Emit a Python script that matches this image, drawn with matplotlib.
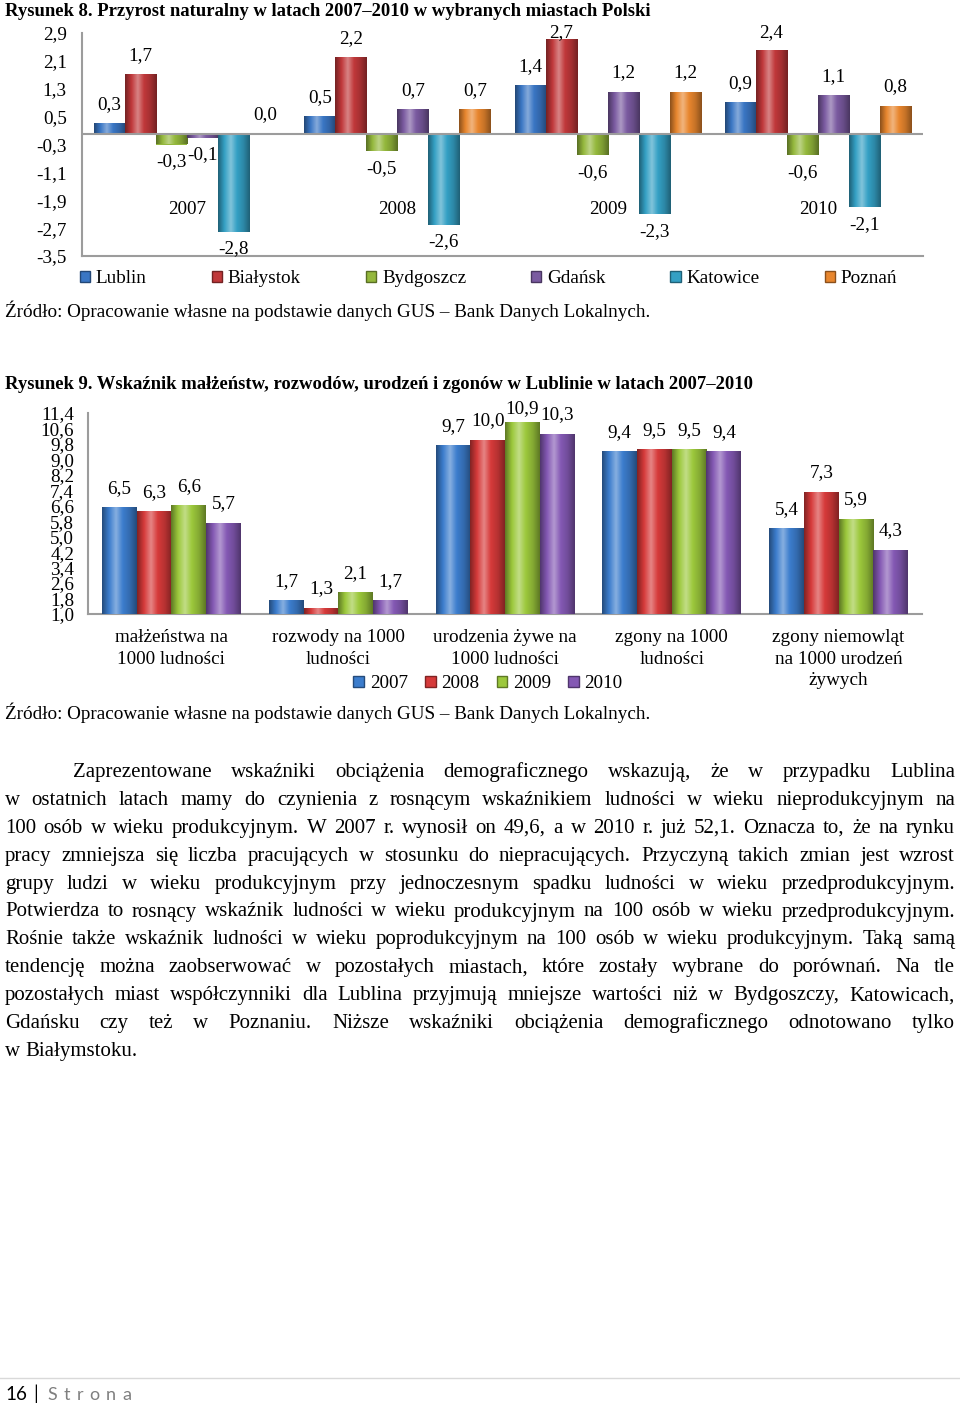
import numpy as np
import matplotlib
matplotlib.use("Agg")
import matplotlib.pyplot as plt
from matplotlib.colors import LinearSegmentedColormap, to_rgb
from matplotlib.patches import Patch
from matplotlib.lines import Line2D

# --- data: Rysunek 8 (przyrost naturalny) ---
years = ["2007", "2008", "2009", "2010"]
cities = ["Lublin", "Białystok", "Bydgoszcz", "Gdańsk", "Katowice", "Poznań"]
lublin = [0.3, 0.5, 1.4, 0.9]
bialystok = [1.7, 2.2, 2.7, 2.4]
bydgoszcz = [-0.3, -0.5, -0.6, -0.6]
gdansk = [-0.1, 0.7, 1.2, 1.1]
katowice = [-2.8, -2.6, -2.3, -2.1]
poznan = [0.0, 0.7, 1.2, 0.8]
growth = [lublin, bialystok, bydgoszcz, gdansk, katowice, poznan]
city_colors = ["#3a76c4", "#c0383a", "#94b83c", "#7a5aa0", "#34a0c4", "#e8862e"]

# --- data: Rysunek 9 (wskazniki dla Lublina) ---
indicators = ["małżeństwa na\n1000 ludności", "rozwody na 1000\nludności",
              "urodzenia żywe na\n1000 ludności", "zgony na 1000\nludności",
              "zgony niemowląt\nna 1000 urodzeń\nżywych"]
v2007 = [6.5, 1.7, 9.7, 9.4, 5.4]
v2008 = [6.3, 1.3, 10.0, 9.5, 7.3]
v2009 = [6.6, 2.1, 10.9, 9.5, 5.9]
v2010 = [5.7, 1.7, 10.3, 9.4, 4.3]
rates = [v2007, v2008, v2009, v2010]
year_colors = ["#3c7dcd", "#d63a3a", "#9cc83c", "#8459b4"]

para_lines = [
    "Zaprezentowane wskaźniki obciążenia demograficznego wskazują, że w przypadku Lublina",
    "w ostatnich latach mamy do czynienia z rosnącym wskaźnikiem ludności w wieku nieprodukcyjnym na",
    "100 osób w wieku produkcyjnym. W 2007 r. wynosił on 49,6, a w 2010 r. już 52,1. Oznacza to, że na rynku",
    "pracy zmniejsza się liczba pracujących w stosunku do niepracujących. Przyczyną takich zmian jest wzrost",
    "grupy ludzi w wieku produkcyjnym przy jednoczesnym spadku ludności w wieku przedprodukcyjnym.",
    "Potwierdza to rosnący wskaźnik ludności w wieku produkcyjnym na 100 osób w wieku przedprodukcyjnym.",
    "Rośnie także wskaźnik ludności w wieku poprodukcyjnym na 100 osób w wieku produkcyjnym. Taką samą",
    "tendencję można zaobserwować w pozostałych miastach, które zostały wybrane do porównań. Na tle",
    "pozostałych miast współczynniki dla Lublina przyjmują mniejsze wartości niż w Bydgoszczy, Katowicach,",
    "Gdańsku czy też w Poznaniu. Niższe wskaźniki obciążenia demograficznego odnotowano tylko",
    "w Białymstoku.",
]

src = "Źródło: Opracowanie własne na podstawie danych GUS – Bank Danych Lokalnych."

plt.rcParams['font.family'] = ['Liberation Serif', 'DejaVu Serif']

W, H = 960, 1406
fig = plt.figure(figsize=(W / 100, H / 100), dpi=100)
fig.patch.set_facecolor("white")
AX_GRAY = "#9c9c9c"
FS = 13.8      # chart text
TS = 13.4      # titles


def px_axes(x0, y0, x1, y1):
    return fig.add_axes([x0 / W, 1 - y1 / H, (x1 - x0) / W, (y1 - y0) / H])


def ftext(x, y, s, **kw):
    return fig.text(x / W, 1 - y / H, s, **kw)


def fmt(v):
    return f"{v:.1f}".replace(".", ",")


def cyl_cmap(c):
    base = np.array(to_rgb(c))
    dark = base * 0.6
    light = base + (1 - base) * 0.38
    return LinearSegmentedColormap.from_list("cyl", [dark, base, light, base, base * 0.85, dark])


def add_gradient(ax, bars, color):
    cm = cyl_cmap(color)
    grad = np.linspace(0, 1, 128).reshape(1, -1)
    for r in bars:
        x0, w = r.get_x(), r.get_width()
        y0, h = r.get_y(), r.get_height()
        if h == 0:
            continue
        im = ax.imshow(grad, extent=(x0, x0 + w, min(y0, y0 + h), max(y0, y0 + h)),
                       aspect="auto", cmap=cm, interpolation="bilinear", zorder=3)
        im.set_clip_path(r)
        im.set_clip_box(ax.bbox)


def style_axes(ax):
    for s in ["top", "right"]:
        ax.spines[s].set_visible(False)
    for s in ["left", "bottom"]:
        ax.spines[s].set_color(AX_GRAY)
        ax.spines[s].set_linewidth(1.5)
    ax.tick_params(length=0)


# ---------------- Rysunek 8 ----------------
ftext(5, 16, "Rysunek 8. Przyrost naturalny w latach 2007–2010 w wybranych miastach Polski",
      fontsize=TS, fontweight="bold", va="baseline")

ax1 = px_axes(82, 33, 923, 256)
style_axes(ax1)
x = np.arange(len(years))
bw = 0.1476
handles = []
for j, (city, vals, col) in enumerate(zip(cities, growth, city_colors)):
    bars = ax1.bar(x + (j - 2.5) * bw, vals, bw, color=col, zorder=2, linewidth=0)
    add_gradient(ax1, bars, col)
    handles.append(Patch(facecolor=col, edgecolor=np.array(to_rgb(col)) * 0.6, label=city))
    for xi, v in zip(x + (j - 2.5) * bw, vals):
        ly = min(v + 0.55, 2.9) if v >= 0 else v - 0.5
        ax1.text(xi, ly, fmt(v), ha="center", va="center", fontsize=FS, clip_on=False)
ax1.axhline(0, color=AX_GRAY, lw=1.5, zorder=4)
for xi, yr in zip(x, years):
    ax1.text(xi, -2.16, yr, ha="center", va="center", fontsize=FS)
ax1.set_xlim(-0.5, len(years) - 0.5)
ax1.set_ylim(-3.5, 2.9)
ticks1 = np.round(np.arange(-3.5, 2.95, 0.8), 1)
ax1.set_yticks(ticks1)
ax1.set_yticklabels([fmt(t) for t in ticks1], fontsize=FS)
ax1.tick_params(axis="y", pad=11)
ax1.set_xticks([])

fig.legend(handles=handles, loc="lower left", ncol=6, mode="expand", frameon=False,
           bbox_to_anchor=(72 / W, 1 - 295 / H, (905 - 72) / W, 26 / H),
           fontsize=FS, handlelength=0.55, handleheight=0.55, handletextpad=0.3,
           borderaxespad=0)

ftext(5, 311, src, fontsize=FS, va="center")

# ---------------- Rysunek 9 ----------------
ftext(5, 389, "Rysunek 9. Wskaźnik małżeństw, rozwodów, urodzeń i zgonów w Lublinie w latach 2007–2010",
      fontsize=TS, fontweight="bold", va="baseline")

ax2 = px_axes(88, 413, 922, 614)
style_axes(ax2)
x2 = np.arange(len(indicators))
bw2 = 0.208
handles2 = []
for j, (yr, vals, col) in enumerate(zip(years, rates, year_colors)):
    pos = x2 + (j - 1.5) * bw2
    bars = ax2.bar(pos, vals, bw2, color=col, zorder=2, linewidth=0)
    add_gradient(ax2, bars, col)
    handles2.append(Patch(facecolor=col, edgecolor=np.array(to_rgb(col)) * 0.6, label=yr))
    for xi, v in zip(pos, vals):
        ax2.text(xi, min(v + 1.0, 11.65), fmt(v), ha="center", va="center",
                 fontsize=FS, clip_on=False)
ax2.set_xlim(-0.5, len(indicators) - 0.5)
ax2.set_ylim(1.0, 11.4)
ticks2 = np.round(np.arange(1.0, 11.45, 0.8), 1)
ax2.set_yticks(ticks2)
ax2.set_yticklabels([fmt(t) for t in ticks2], fontsize=FS)
ax2.tick_params(axis="y", pad=10)
ax2.set_xticks(x2)
ax2.set_xticklabels(indicators, fontsize=FS, linespacing=1.38)
ax2.tick_params(axis="x", pad=10.5)

fig.legend(handles=handles2, loc="center", ncol=4, frameon=False,
           bbox_to_anchor=(488 / W, 1 - 684 / H), fontsize=FS,
           handlelength=0.55, handleheight=0.55, handletextpad=0.3, columnspacing=0.9)

ftext(5, 713, src, fontsize=FS, va="center")

# ---------------- paragraph (justified) ----------------
renderer = fig.canvas.get_renderer()
PSIZE = 15


def text_w(s, size=PSIZE, **kw):
    t = fig.text(0, 0, s, fontsize=size, **kw)
    w = t.get_window_extent(renderer).width
    t.remove()
    return w


space_w = text_w("a a") - text_w("aa")
for k, line in enumerate(para_lines):
    yb = 777 + 27.9 * k
    xl = 73 if k == 0 else 5
    xr = 955
    words = line.split()
    widths = [text_w(wd) for wd in words]
    if k == len(para_lines) - 1:
        gap = space_w
    else:
        gap = (xr - xl - sum(widths)) / (len(words) - 1)
    xc = xl
    for wd, ww in zip(words, widths):
        ftext(xc, yb, wd, fontsize=PSIZE, va="baseline")
        xc += ww + gap

# ---------------- footer ----------------
fig.add_artist(Line2D([0, 1], [1 - 1378 / H, 1 - 1378 / H], color="#d9d9d9", lw=1))
ftext(5, 1400, "16", fontsize=13.5, va="baseline", family="Lato")
ftext(33, 1400, "|", fontsize=13.5, va="baseline", family="Lato")
xc = 47
for ch in "Strona":
    ftext(xc, 1400, ch, fontsize=13, va="baseline", family="Lato", color="#7f7f7f")
    xc += text_w(ch, 13, family="Lato") + 6.5

fig.savefig("out.png", dpi=100, facecolor="white")
